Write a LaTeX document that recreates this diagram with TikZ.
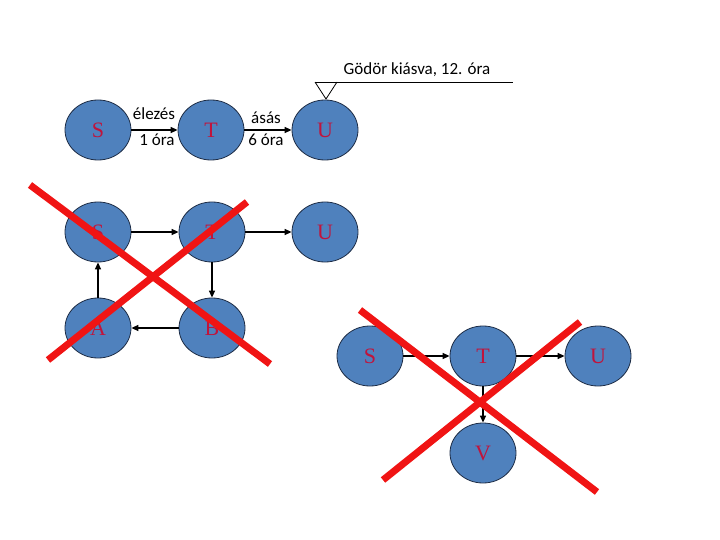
\documentclass[tikz,border=0pt]{standalone}
\usepackage{fontspec}
\setmainfont{Liberation Serif}
\newfontfamily\lblfont{Carlito}
\usetikzlibrary{shapes.geometric,arrows.meta}
\definecolor{nodeblue}{RGB}{79,129,189}
\definecolor{nodeedge}{RGB}{30,45,70}
\definecolor{lettred}{RGB}{192,20,60}
\definecolor{xred}{RGB}{240,20,20}
\tikzset{
  ev/.style={ellipse, draw=nodeedge, line width=0.8pt, fill=nodeblue, minimum width=66pt, minimum height=60pt, inner sep=0pt, text=lettred, font=\fontsize{22}{24}\selectfont},
  conn/.style={draw=black, line width=1.3pt, -{Triangle[length=7pt,width=6pt]}},
  lbl/.style={font=\lblfont\fontsize{17}{19}\selectfont, inner sep=0pt},
  cross/.style={draw=xred, line width=7pt}
}
\begin{document}
\begin{tikzpicture}[x=1pt,y=-1pt]
\useasboundingbox (0,0) rectangle (720,540);
% top row
\node[ev] (s1) at (98,130) {S};
\node[ev] (t1) at (211,130) {T};
\node[ev] (u1) at (325,130) {U};
\draw[conn] (s1) -- (t1);
\draw[conn] (t1) -- (u1);
\node[lbl] (l1) at (154,114) {élezés};
\node[lbl] (l2) at (157,140) {1 óra};
\node[lbl] (l3) at (266,118) {ásás};
\node[lbl] (l4) at (266,140) {6 óra};
\coordinate (gl) at (315,82);
\coordinate (gr) at (337,82);
\coordinate (ge) at (513,82);
\coordinate (ga) at (326,99);
\draw[line width=0.8pt] (gl) -- (ga) -- (gr);
\draw[line width=0.8pt] (gl) -- (ge);
\node[lbl] (gt) at (417,70) {Gödör kiásva, 12. óra};
% middle block
\node[ev] (s2) at (98,232) {S};
\node[ev] (t2) at (212,232) {T};
\node[ev] (u2) at (325,232) {U};
\node[ev] (a2) at (98,328) {A};
\node[ev] (b2) at (212,328) {B};
\draw[conn] (s2) -- (t2);
\draw[conn] (t2) -- (u2);
\draw[conn] (t2) -- (b2);
\draw[conn] (b2) -- (a2);
\draw[conn] (a2) -- (s2);
\coordinate (x1a) at (30,185);
\coordinate (x1b) at (270,364);
\coordinate (x2a) at (48,360);
\coordinate (x2b) at (247,202);
\draw[cross] (x1a) -- (x1b);
\draw[cross] (x2a) -- (x2b);
% lower right block
\node[ev] (s3) at (370,356) {S};
\node[ev] (t3) at (483,356) {T};
\node[ev] (u3) at (598,356) {U};
\node[ev] (v3) at (483,453) {V};
\draw[conn] (s3) -- (t3);
\draw[conn] (t3) -- (u3);
\draw[conn] (t3) -- (v3);
\coordinate (x3a) at (360,310);
\coordinate (x3b) at (597,492);
\coordinate (x4a) at (383,480);
\coordinate (x4b) at (580,322);
\draw[cross] (x3a) -- (x3b);
\draw[cross] (x4a) -- (x4b);
\end{tikzpicture}
\end{document}
